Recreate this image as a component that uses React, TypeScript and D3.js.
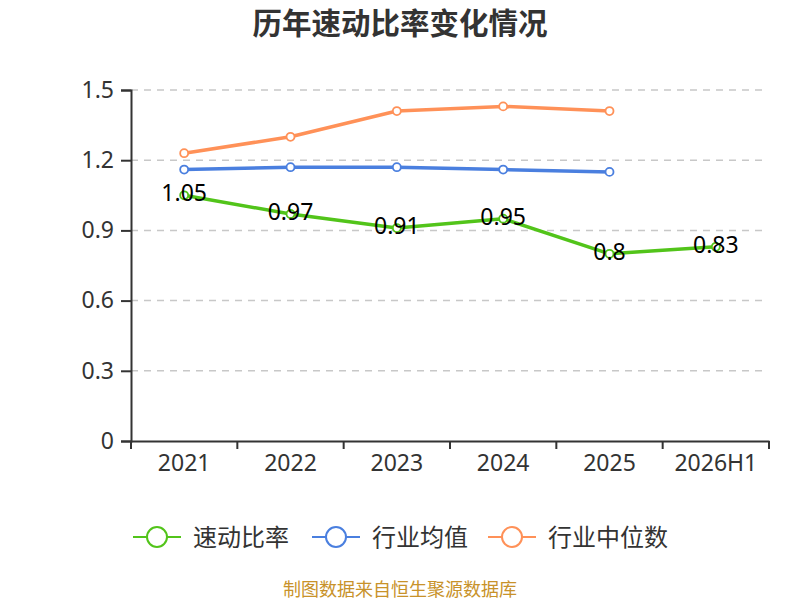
import { useRef, useEffect } from 'react';
import * as d3 from 'd3';

const categories = ['2021', '2022', '2023', '2024', '2025', '2026H1'];
const quickRatio = [1.05, 0.97, 0.91, 0.95, 0.8, 0.83];
const industryMean = [1.16, 1.17, 1.17, 1.16, 1.15];
const industryMedian = [1.23, 1.3, 1.41, 1.43, 1.41];
const yTicks = [0, 0.3, 0.6, 0.9, 1.2, 1.5];

const seriesList = [
    { name: '速动比率', values: quickRatio, color: '#52c41a', labels: true },
    { name: '行业均值', values: industryMean, color: '#4a7fdf', labels: false },
    { name: '行业中位数', values: industryMedian, color: '#ff9158', labels: false },
];

const FONT = '"Noto Sans", "Noto Sans CJK SC", sans-serif';

export default function App() {
    const svgRef = useRef<SVGSVGElement>(null);

    useEffect(() => {
        if (!svgRef.current) return;
        const root = d3.select(svgRef.current);
        root.selectAll('*').remove();

        const margin = { top: 90, right: 31, bottom: 159, left: 131 };
        const width = 800 - margin.left - margin.right;
        const height = 600 - margin.top - margin.bottom;

        root.append('text')
            .attr('x', 400)
            .attr('y', 34)
            .attr('text-anchor', 'middle')
            .attr('fill', '#333')
            .style('font-family', FONT)
            .style('font-size', '29.5px')
            .style('font-weight', 'bold')
            .text('历年速动比率变化情况');

        const svg = root.append('g')
            .attr('transform', `translate(${margin.left},${margin.top})`);

        const x = d3.scaleBand().domain(categories).range([0, width]);
        const y = d3.scaleLinear().domain([0, 1.5]).range([height, 0]);

        // Grid lines
        svg.append('g')
            .selectAll('line')
            .data(yTicks.filter(t => t > 0))
            .enter()
            .append('line')
            .attr('x1', 0)
            .attr('x2', width - 7)
            .attr('y1', d => y(d))
            .attr('y2', d => y(d))
            .attr('stroke', '#c8c8c8')
            .attr('stroke-width', 1.5)
            .attr('stroke-dasharray', '7,6');

        // Axes
        const yAxis = svg.append('g')
            .call(d3.axisLeft(y).tickValues(yTicks).tickSize(10).tickPadding(7).tickFormat(d => String(d)));
        yAxis.select('.domain').attr('stroke', '#333').attr('stroke-width', 2);
        yAxis.selectAll('line').attr('stroke', '#333').attr('stroke-width', 2);
        yAxis.selectAll('text')
            .attr('fill', '#333')
            .style('font-family', FONT)
            .style('font-size', '23px');

        const xAxis = svg.append('g')
            .attr('transform', `translate(0,${height})`)
            .call(d3.axisBottom(x).tickSize(0).tickPadding(14));
        xAxis.select('.domain').attr('stroke', '#333').attr('stroke-width', 2);
        xAxis.selectAll('text')
            .attr('fill', '#333')
            .style('font-family', FONT)
            .style('font-size', '23px');
        xAxis.selectAll('.band-tick')
            .data(d3.range(categories.length + 1))
            .enter()
            .append('line')
            .attr('class', 'band-tick')
            .attr('x1', d => d * x.bandwidth())
            .attr('x2', d => d * x.bandwidth())
            .attr('y1', 0)
            .attr('y2', 8)
            .attr('stroke', '#333')
            .attr('stroke-width', 2);

        const cx = (i: number) => (x(categories[i]) || 0) + x.bandwidth() / 2;

        seriesList.forEach(s => {
            const line = d3.line<number>()
                .x((_d, i) => cx(i))
                .y(d => y(d));

            svg.append('path')
                .datum(s.values)
                .attr('fill', 'none')
                .attr('stroke', s.color)
                .attr('stroke-width', 3.5)
                .attr('stroke-linejoin', 'round')
                .attr('d', line);

            svg.selectAll(null)
                .data(s.values)
                .enter()
                .append('circle')
                .attr('cx', (_d, i) => cx(i))
                .attr('cy', d => y(d))
                .attr('r', 4)
                .attr('fill', '#fff')
                .attr('stroke', s.color)
                .attr('stroke-width', 1.8);

            if (s.labels) {
                svg.selectAll(null)
                    .data(s.values)
                    .enter()
                    .append('text')
                    .attr('x', (_d, i) => cx(i))
                    .attr('y', d => y(d) + 6)
                    .attr('text-anchor', 'middle')
                    .attr('fill', '#000')
                    .style('font-family', FONT)
                    .style('font-size', '23px')
                    .text(d => String(d));
            }
        });

        // Legend
        const legendX = [133, 312, 488];
        const legend = root.append('g');
        seriesList.forEach((s, i) => {
            const g = legend.append('g').attr('transform', `translate(${legendX[i]},537)`);
            g.append('line')
                .attr('x1', 0).attr('x2', 48)
                .attr('y1', 0).attr('y2', 0)
                .attr('stroke', s.color)
                .attr('stroke-width', 2);
            g.append('circle')
                .attr('cx', 24).attr('cy', 0).attr('r', 10)
                .attr('fill', '#fff')
                .attr('stroke', s.color)
                .attr('stroke-width', 2);
            g.append('text')
                .attr('x', 60)
                .attr('y', 9)
                .attr('fill', '#333')
                .style('font-family', FONT)
                .style('font-size', '24px')
                .text(s.name);
        });

        root.append('text')
            .attr('x', 400)
            .attr('y', 596)
            .attr('text-anchor', 'middle')
            .attr('fill', '#c8922a')
            .style('font-family', FONT)
            .style('font-size', '18px')
            .text('制图数据来自恒生聚源数据库');
    }, []);

    return (
        <svg ref={svgRef} width={800} height={600}
            style={{ position: 'absolute', left: 0, top: 0, background: '#fff' }} />
    );
}
